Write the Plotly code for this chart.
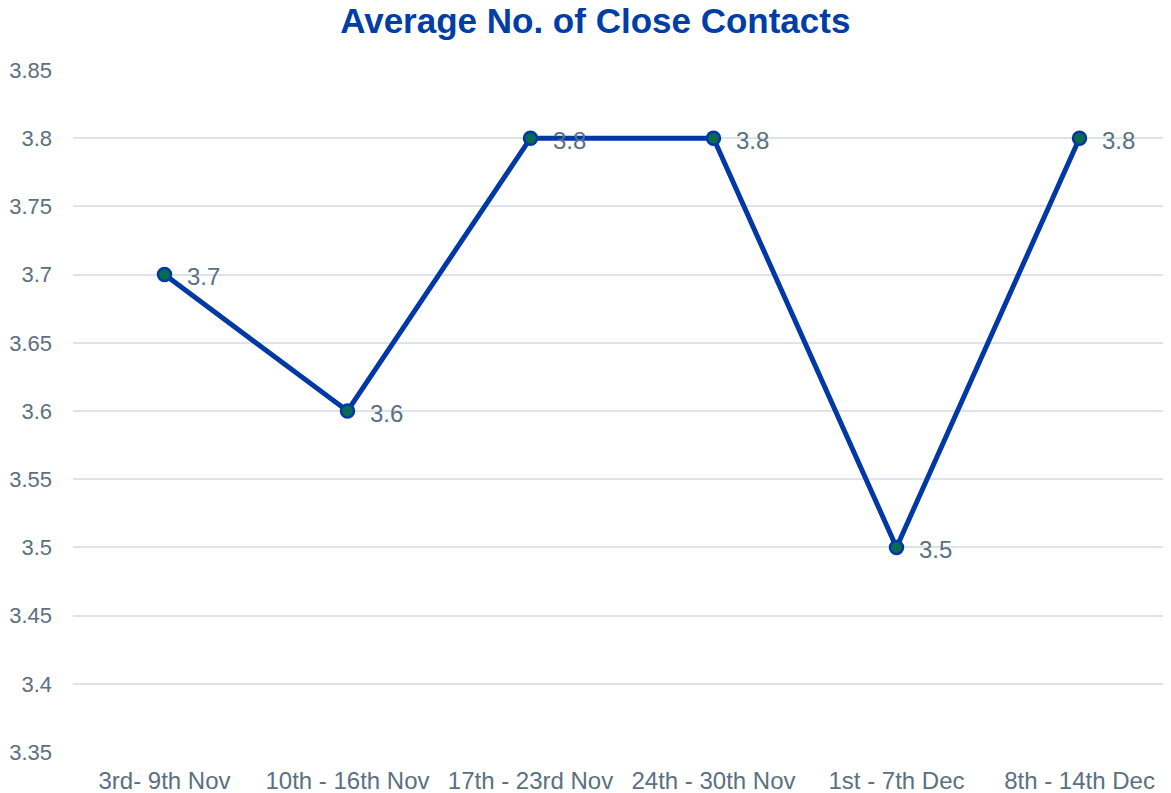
import plotly.graph_objects as go

categories = ["3rd- 9th Nov", "10th - 16th Nov", "17th - 23rd Nov", "24th - 30th Nov", "1st - 7th Dec", "8th - 14th Dec"]
values = [3.7, 3.6, 3.8, 3.8, 3.5, 3.8]
labels = ["3.7", "3.6", "3.8", "3.8", "3.5", "3.8"]
ytickvals = [3.35, 3.4, 3.45, 3.5, 3.55, 3.6, 3.65, 3.7, 3.75, 3.8, 3.85]
yticktext = ["3.35", "3.4", "3.45", "3.5", "3.55", "3.6", "3.65", "3.7", "3.75", "3.8", "3.85"]

FONT = "Liberation Sans, Arial, sans-serif"
TXT = "#5b7080"

fig = go.Figure()
fig.add_trace(go.Scatter(
    x=categories, y=values, mode="lines+markers",
    line=dict(color="#0039A6", width=5),
    marker=dict(size=13, color="#0B6B50", line=dict(color="#0039A6", width=2.5)),
    cliponaxis=False, showlegend=False,
))

for c, v, t in zip(categories, values, labels):
    fig.add_annotation(x=c, y=v, text=t, showarrow=False, xanchor="left", yanchor="middle",
                       xshift=20, yshift=-2,
                       font=dict(family=FONT, size=24, color=TXT))

fig.update_layout(
    width=1163, height=785,
    paper_bgcolor="white", plot_bgcolor="white",
    margin=dict(l=65, r=0, t=62, b=41),
    title=dict(text="<b>Average No. of Close Contacts</b>", x=0.505, xanchor="center",
               y=0.9835, yanchor="middle",
               font=dict(family=FONT, size=35, color="#003DA5")),
    xaxis=dict(range=[-0.5, 5.5], showgrid=False, zeroline=False, showline=False,
               ticks="", ticklabelstandoff=12, automargin=False,
               tickfont=dict(family=FONT, size=24, color=TXT)),
    yaxis=dict(range=[3.35, 3.85], tickvals=ytickvals, ticktext=yticktext,
               showgrid=True, gridcolor="#DDE3E8", gridwidth=1.5, zeroline=False,
               showline=False, ticks="", ticklabelstandoff=20, automargin=False,
               tickfont=dict(family=FONT, size=22, color=TXT)),
)

fig.write_html("out.html")
